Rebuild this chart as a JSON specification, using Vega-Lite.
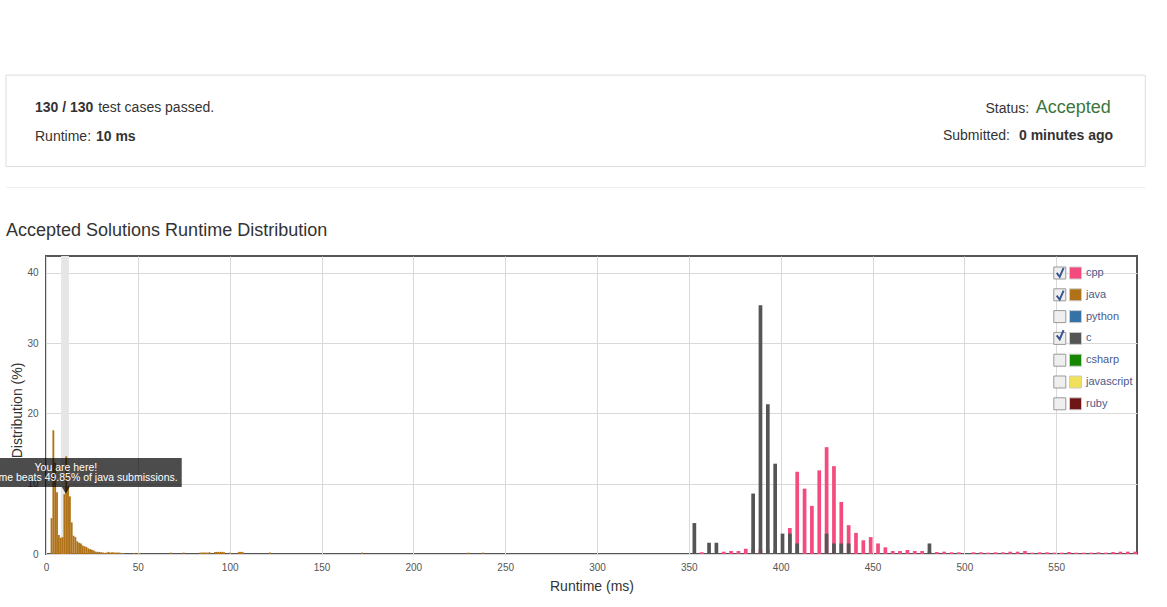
{
  "$schema": "https://vega.github.io/schema/vega-lite/v6.json",
  "width": 1091,
  "height": 298,
  "autosize": {"type": "none"},
  "padding": {"left": 46, "top": 256, "right": 30, "bottom": 53},
  "background": "white",
  "config": {
    "font": "Liberation Sans",
    "view": {"stroke": "#555555", "strokeWidth": 2}
  },
  "datasets": {
    "runtime": [
      {"lang": "cpp", "ms": 357, "pct": 0.25}, {"lang": "cpp", "ms": 365, "pct": 0.1}, {"lang": "cpp", "ms": 369, "pct": 0.33},
      {"lang": "cpp", "ms": 373, "pct": 0.43}, {"lang": "cpp", "ms": 377, "pct": 0.43}, {"lang": "cpp", "ms": 381, "pct": 0.75},
      {"lang": "cpp", "ms": 385, "pct": 0.7}, {"lang": "cpp", "ms": 389, "pct": 0.6}, {"lang": "cpp", "ms": 393, "pct": 0.6},
      {"lang": "cpp", "ms": 397, "pct": 0.5}, {"lang": "cpp", "ms": 405, "pct": 3.7}, {"lang": "cpp", "ms": 409, "pct": 11.7},
      {"lang": "cpp", "ms": 413, "pct": 9.3}, {"lang": "cpp", "ms": 417, "pct": 6.85}, {"lang": "cpp", "ms": 421, "pct": 11.9},
      {"lang": "cpp", "ms": 425, "pct": 15.2}, {"lang": "cpp", "ms": 429, "pct": 12.5}, {"lang": "cpp", "ms": 433, "pct": 7.4},
      {"lang": "cpp", "ms": 437, "pct": 4.1}, {"lang": "cpp", "ms": 441, "pct": 3.0}, {"lang": "cpp", "ms": 445, "pct": 1.95},
      {"lang": "cpp", "ms": 449, "pct": 2.4}, {"lang": "cpp", "ms": 453, "pct": 1.5}, {"lang": "cpp", "ms": 457, "pct": 0.95},
      {"lang": "cpp", "ms": 461, "pct": 0.43}, {"lang": "cpp", "ms": 465, "pct": 0.43}, {"lang": "cpp", "ms": 469, "pct": 0.57},
      {"lang": "cpp", "ms": 473, "pct": 0.43}, {"lang": "cpp", "ms": 477, "pct": 0.43}, {"lang": "cpp", "ms": 481, "pct": 0.3},
      {"lang": "cpp", "ms": 485, "pct": 0.28}, {"lang": "cpp", "ms": 489, "pct": 0.33}, {"lang": "cpp", "ms": 493, "pct": 0.24},
      {"lang": "cpp", "ms": 497, "pct": 0.24}, {"lang": "cpp", "ms": 505, "pct": 0.24}, {"lang": "cpp", "ms": 509, "pct": 0.24},
      {"lang": "cpp", "ms": 513, "pct": 0.19}, {"lang": "cpp", "ms": 517, "pct": 0.24}, {"lang": "cpp", "ms": 521, "pct": 0.24},
      {"lang": "cpp", "ms": 525, "pct": 0.33}, {"lang": "cpp", "ms": 529, "pct": 0.33}, {"lang": "cpp", "ms": 533, "pct": 0.43},
      {"lang": "cpp", "ms": 537, "pct": 0.19}, {"lang": "cpp", "ms": 541, "pct": 0.24}, {"lang": "cpp", "ms": 545, "pct": 0.24},
      {"lang": "cpp", "ms": 549, "pct": 0.19}, {"lang": "cpp", "ms": 553, "pct": 0.19}, {"lang": "cpp", "ms": 557, "pct": 0.28},
      {"lang": "cpp", "ms": 561, "pct": 0.19}, {"lang": "cpp", "ms": 565, "pct": 0.19}, {"lang": "cpp", "ms": 569, "pct": 0.19},
      {"lang": "cpp", "ms": 573, "pct": 0.24}, {"lang": "cpp", "ms": 577, "pct": 0.19}, {"lang": "cpp", "ms": 581, "pct": 0.28},
      {"lang": "cpp", "ms": 585, "pct": 0.33}, {"lang": "cpp", "ms": 589, "pct": 0.33}, {"lang": "cpp", "ms": 593, "pct": 0.33},
      {"lang": "java", "ms": 3, "pct": 5.1}, {"lang": "java", "ms": 4, "pct": 17.6}, {"lang": "java", "ms": 5, "pct": 13.0},
      {"lang": "java", "ms": 6, "pct": 8.8}, {"lang": "java", "ms": 7, "pct": 2.7}, {"lang": "java", "ms": 8, "pct": 2.3},
      {"lang": "java", "ms": 9, "pct": 2.4}, {"lang": "java", "ms": 10, "pct": 8.5}, {"lang": "java", "ms": 11, "pct": 13.9},
      {"lang": "java", "ms": 12, "pct": 9.6}, {"lang": "java", "ms": 13, "pct": 8.2}, {"lang": "java", "ms": 14, "pct": 4.5},
      {"lang": "java", "ms": 15, "pct": 2.6}, {"lang": "java", "ms": 16, "pct": 2.4}, {"lang": "java", "ms": 17, "pct": 1.8},
      {"lang": "java", "ms": 18, "pct": 1.6}, {"lang": "java", "ms": 19, "pct": 1.5}, {"lang": "java", "ms": 20, "pct": 1.2},
      {"lang": "java", "ms": 21, "pct": 1.1}, {"lang": "java", "ms": 22, "pct": 1.0}, {"lang": "java", "ms": 23, "pct": 0.8},
      {"lang": "java", "ms": 24, "pct": 0.7}, {"lang": "java", "ms": 25, "pct": 0.6}, {"lang": "java", "ms": 26, "pct": 0.5},
      {"lang": "java", "ms": 27, "pct": 0.35}, {"lang": "java", "ms": 28, "pct": 0.3}, {"lang": "java", "ms": 29, "pct": 0.3},
      {"lang": "java", "ms": 30, "pct": 0.25}, {"lang": "java", "ms": 31, "pct": 0.2}, {"lang": "java", "ms": 32, "pct": 0.15},
      {"lang": "java", "ms": 33, "pct": 0.2}, {"lang": "java", "ms": 34, "pct": 0.3}, {"lang": "java", "ms": 35, "pct": 0.2},
      {"lang": "java", "ms": 36, "pct": 0.25}, {"lang": "java", "ms": 37, "pct": 0.2}, {"lang": "java", "ms": 38, "pct": 0.2},
      {"lang": "java", "ms": 39, "pct": 0.2}, {"lang": "java", "ms": 40, "pct": 0.2}, {"lang": "java", "ms": 41, "pct": 0.15},
      {"lang": "java", "ms": 42, "pct": 0.15}, {"lang": "java", "ms": 48, "pct": 0.15}, {"lang": "java", "ms": 51, "pct": 0.15},
      {"lang": "java", "ms": 68, "pct": 0.2}, {"lang": "java", "ms": 75, "pct": 0.2}, {"lang": "java", "ms": 84, "pct": 0.2},
      {"lang": "java", "ms": 85, "pct": 0.2}, {"lang": "java", "ms": 86, "pct": 0.2}, {"lang": "java", "ms": 87, "pct": 0.2},
      {"lang": "java", "ms": 88, "pct": 0.2}, {"lang": "java", "ms": 89, "pct": 0.25}, {"lang": "java", "ms": 92, "pct": 0.3},
      {"lang": "java", "ms": 93, "pct": 0.3}, {"lang": "java", "ms": 94, "pct": 0.3}, {"lang": "java", "ms": 95, "pct": 0.3},
      {"lang": "java", "ms": 96, "pct": 0.3}, {"lang": "java", "ms": 97, "pct": 0.25}, {"lang": "java", "ms": 100, "pct": 0.2},
      {"lang": "java", "ms": 105, "pct": 0.3}, {"lang": "java", "ms": 106, "pct": 0.3}, {"lang": "java", "ms": 107, "pct": 0.3},
      {"lang": "java", "ms": 122, "pct": 0.2}, {"lang": "java", "ms": 172, "pct": 0.2}, {"lang": "java", "ms": 230, "pct": 0.2},
      {"lang": "java", "ms": 238, "pct": 0.2},
      {"lang": "c", "ms": 353, "pct": 4.4}, {"lang": "c", "ms": 361, "pct": 1.6}, {"lang": "c", "ms": 365, "pct": 1.6},
      {"lang": "c", "ms": 385, "pct": 8.6}, {"lang": "c", "ms": 389, "pct": 35.4}, {"lang": "c", "ms": 393, "pct": 21.3},
      {"lang": "c", "ms": 397, "pct": 12.85}, {"lang": "c", "ms": 401, "pct": 2.9}, {"lang": "c", "ms": 405, "pct": 2.9},
      {"lang": "c", "ms": 409, "pct": 1.5}, {"lang": "c", "ms": 425, "pct": 2.9}, {"lang": "c", "ms": 429, "pct": 1.5},
      {"lang": "c", "ms": 433, "pct": 1.5}, {"lang": "c", "ms": 437, "pct": 1.5}, {"lang": "c", "ms": 481, "pct": 1.5}
    ],
    "langs": [
      {"lang": "cpp", "n": 1, "checked": "yes"},
      {"lang": "java", "n": 2, "checked": "yes"},
      {"lang": "python", "n": 3, "checked": "no"},
      {"lang": "c", "n": 4, "checked": "yes"},
      {"lang": "csharp", "n": 5, "checked": "no"},
      {"lang": "javascript", "n": 6, "checked": "no"},
      {"lang": "ruby", "n": 7, "checked": "no"}
    ],
    "one": [{}]
  },
  "layer": [
    {
      "data": {"name": "one"},
      "mark": {"type": "rect", "color": "#e6e6e6"},
      "encoding": {
        "x": {"datum": 8.2, "type": "quantitative", "scale": {"domain": [0, 594], "nice": false, "zero": false, "padding": 0}},
        "x2": {"datum": 12.5},
        "y": {"datum": 0, "type": "quantitative", "scale": {"domain": [0, 42.4], "nice": false, "zero": false}},
        "y2": {"datum": 42.4}
      }
    },
    {
      "data": {"name": "runtime"},
      "mark": {"type": "bar", "clip": true},
      "encoding": {
        "x": {
          "field": "ms", "type": "quantitative",
          "scale": {"domain": [0, 594], "nice": false, "zero": false, "padding": 0},
          "axis": {
            "title": "Runtime (ms)", "values": [0, 50, 100, 150, 200, 250, 300, 350, 400, 450, 500, 550],
            "grid": true, "gridColor": "#d9d9d9", "domain": false, "ticks": false, "labelFlush": false,
            "labelFontSize": 10, "labelColor": "#555555", "labelPadding": 8,
            "titleFontSize": 14, "titleFontWeight": "normal", "titleColor": "#333333", "titlePadding": 7
          }
        },
        "y": {
          "field": "pct", "type": "quantitative", "stack": null,
          "scale": {"domain": [0, 42.4], "nice": false, "zero": false},
          "axis": {
            "title": "Distribution (%)", "values": [0, 10, 20, 30, 40],
            "grid": true, "gridColor": "#d9d9d9", "domain": false, "ticks": false,
            "labelFontSize": 10, "labelColor": "#555555", "labelPadding": 8,
            "titleFontSize": 14, "titleFontWeight": "normal", "titleColor": "#333333", "titlePadding": 2, "titleY": 154
          }
        },
        "size": {"condition": {"test": "datum.lang === 'java'", "value": 1.84}, "value": 3.7},
        "color": {
          "field": "lang", "type": "nominal",
          "scale": {
            "domain": ["cpp", "java", "python", "c", "csharp", "javascript", "ruby"],
            "range": ["#f34b7d", "#b07219", "#3572a5", "#555555", "#178600", "#f1e05a", "#701516"]
          },
          "legend": {
            "orient": "none", "legendX": 1023, "legendY": 10.5, "title": null, "padding": 0,
            "symbolType": "square", "symbolSize": 144, "symbolStrokeColor": "#cccccc", "symbolStrokeWidth": 1, "symbolOpacity": 1,
            "labelFontSize": 11, "labelColor": "#4a5a8c", "labelOffset": 4, "rowPadding": 4.8, "zindex": 1
          }
        }
      }
    },
    {
      "data": {"name": "langs"},
      "mark": {"type": "point", "filled": true, "size": 0},
      "encoding": {
        "fill": {
          "field": "n", "type": "ordinal",
          "scale": {"domain": [1, 2, 3, 4, 5, 6, 7], "range": ["#efefef", "#efefef", "#efefef", "#efefef", "#efefef", "#efefef", "#efefef"]},
          "legend": {
            "orient": "none", "legendX": 1007.3, "legendY": 10.5, "title": null, "padding": 0,
            "symbolType": "square", "symbolSize": 144, "symbolStrokeColor": "#999999", "symbolStrokeWidth": 1, "symbolOpacity": 1,
            "labelFontSize": 11, "labelExpr": "''", "labelOffset": 4, "rowPadding": 4.8, "zindex": 1
          }
        }
      }
    },
    {
      "data": {"name": "langs"},
      "mark": {"type": "point", "filled": false, "size": 0, "color": "#3a5694", "strokeWidth": 2},
      "encoding": {
        "shape": {
          "field": "lang", "type": "nominal",
          "sort": ["cpp", "java", "python", "c", "csharp", "javascript", "ruby"],
          "scale": {"range": [
            "M-0.6,-0.1L-0.1,0.55L0.55,-0.95", "M-0.6,-0.1L-0.1,0.55L0.55,-0.95", "M0,0L0,0",
            "M-0.6,-0.1L-0.1,0.55L0.55,-0.95", "M0,0L0,0", "M0,0L0,0", "M0,0L0,0"
          ]},
          "legend": {
            "orient": "none", "legendX": 1007.3, "legendY": 10.5, "title": null, "padding": 0,
            "symbolSize": 144, "symbolStrokeColor": "#3a5694", "symbolFillColor": "transparent", "symbolStrokeWidth": 2, "symbolOpacity": 1,
            "labelFontSize": 11, "labelExpr": "''", "labelOffset": 4, "rowPadding": 4.8, "zindex": 2
          }
        }
      }
    },
    {
      "data": {"name": "one"},
      "mark": {"type": "rect", "color": "#000000", "opacity": 0.7},
      "encoding": {
        "x": {"datum": -52.2, "type": "quantitative"},
        "x2": {"datum": 73.9},
        "y": {"datum": 13.66, "type": "quantitative"},
        "y2": {"datum": 9.53}
      }
    },
    {
      "data": {"name": "one"},
      "mark": {"type": "point", "shape": "triangle-down", "filled": true, "color": "#000000", "opacity": 0.7, "size": 64},
      "encoding": {
        "x": {"datum": 10.8, "type": "quantitative"},
        "y": {"datum": 9.06, "type": "quantitative"}
      }
    },
    {
      "data": {"name": "one"},
      "mark": {"type": "text", "text": "You are here!", "color": "white", "fontSize": 10.5, "align": "center", "baseline": "alphabetic"},
      "encoding": {
        "x": {"datum": 10.8, "type": "quantitative"},
        "y": {"datum": 11.85, "type": "quantitative"}
      }
    },
    {
      "data": {"name": "one"},
      "mark": {"type": "text", "text": "Your runtime beats 49.85% of java submissions.", "color": "white", "fontSize": 10.5, "align": "center", "baseline": "alphabetic"},
      "encoding": {
        "x": {"datum": 10.8, "type": "quantitative"},
        "y": {"datum": 10.38, "type": "quantitative"}
      }
    },
    {
      "data": {"name": "one"},
      "mark": {"type": "rect", "fillOpacity": 0, "stroke": "#dddddd", "strokeWidth": 1},
      "encoding": {
        "x": {"datum": -21.77, "type": "quantitative"},
        "x2": {"datum": 598.5},
        "y": {"datum": 68.14, "type": "quantitative"},
        "y2": {"datum": 55.12}
      }
    },
    {
      "data": {"name": "one"},
      "mark": {"type": "rule", "color": "#eeeeee", "strokeWidth": 1},
      "encoding": {
        "x": {"datum": -21.77, "type": "quantitative"},
        "x2": {"datum": 598.5},
        "y": {"datum": 52.16, "type": "quantitative"}
      }
    },
    {
      "data": {"name": "one"},
      "mark": {"type": "text", "text": "Accepted Solutions Runtime Distribution", "color": "#333333", "fontSize": 18, "align": "left", "baseline": "alphabetic"},
      "encoding": {
        "x": {"datum": -21.77, "type": "quantitative"},
        "y": {"datum": 45.23, "type": "quantitative"}
      }
    },
    {
      "data": {"name": "one"},
      "mark": {"type": "text", "text": "130 / 130", "color": "#333333", "fontSize": 14, "fontWeight": "bold", "align": "left", "baseline": "alphabetic"},
      "encoding": {
        "x": {"datum": -5.99, "type": "quantitative"},
        "y": {"datum": 62.87, "type": "quantitative"}
      }
    },
    {
      "data": {"name": "one"},
      "mark": {"type": "text", "text": "test cases passed.", "color": "#333333", "fontSize": 14, "align": "left", "baseline": "alphabetic"},
      "encoding": {
        "x": {"datum": 28.4, "type": "quantitative"},
        "y": {"datum": 62.87, "type": "quantitative"}
      }
    },
    {
      "data": {"name": "one"},
      "mark": {"type": "text", "text": "Runtime:", "color": "#333333", "fontSize": 14, "align": "left", "baseline": "alphabetic"},
      "encoding": {
        "x": {"datum": -5.99, "type": "quantitative"},
        "y": {"datum": 58.75, "type": "quantitative"}
      }
    },
    {
      "data": {"name": "one"},
      "mark": {"type": "text", "text": "10 ms", "color": "#333333", "fontSize": 14, "fontWeight": "bold", "align": "left", "baseline": "alphabetic"},
      "encoding": {
        "x": {"datum": 27.2, "type": "quantitative"},
        "y": {"datum": 58.75, "type": "quantitative"}
      }
    },
    {
      "data": {"name": "one"},
      "mark": {"type": "text", "text": "Status:", "color": "#333333", "fontSize": 14, "align": "right", "baseline": "alphabetic"},
      "encoding": {
        "x": {"datum": 535.25, "type": "quantitative"},
        "y": {"datum": 62.77, "type": "quantitative"}
      }
    },
    {
      "data": {"name": "one"},
      "mark": {"type": "text", "text": "Accepted", "color": "#3c763d", "fontSize": 18, "align": "right", "baseline": "alphabetic"},
      "encoding": {
        "x": {"datum": 579.75, "type": "quantitative"},
        "y": {"datum": 62.77, "type": "quantitative"}
      }
    },
    {
      "data": {"name": "one"},
      "mark": {"type": "text", "text": "Submitted:", "color": "#333333", "fontSize": 14, "align": "right", "baseline": "alphabetic"},
      "encoding": {
        "x": {"datum": 524.8, "type": "quantitative"},
        "y": {"datum": 58.89, "type": "quantitative"}
      }
    },
    {
      "data": {"name": "one"},
      "mark": {"type": "text", "text": "0 minutes ago", "color": "#333333", "fontSize": 14, "fontWeight": "bold", "align": "right", "baseline": "alphabetic"},
      "encoding": {
        "x": {"datum": 581.0, "type": "quantitative"},
        "y": {"datum": 58.89, "type": "quantitative"}
      }
    }
  ]
}
